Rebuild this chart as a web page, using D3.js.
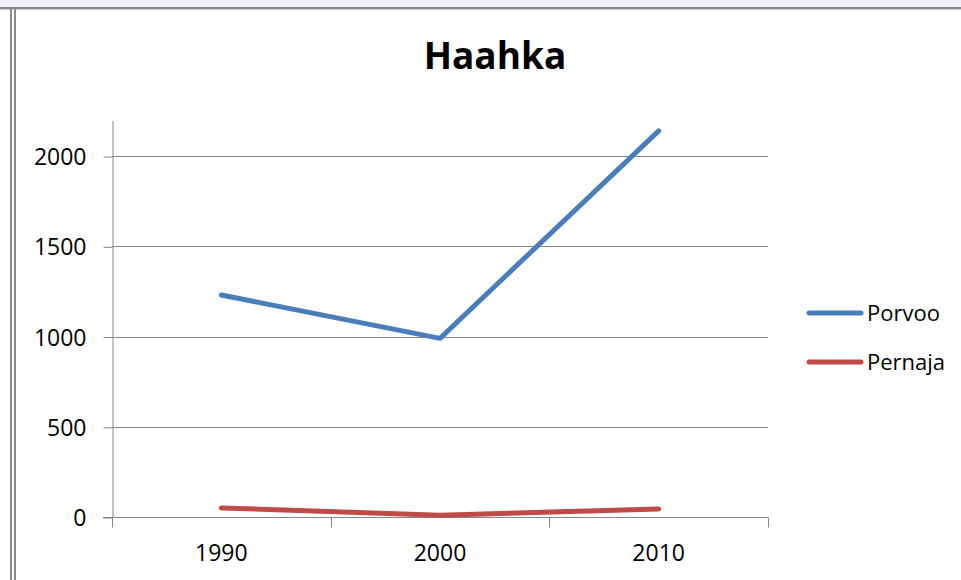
<!DOCTYPE html>
<html>
<head>
<meta charset="utf-8">
<script src="https://cdn.jsdelivr.net/npm/d3@7"></script>
<style>
  body { margin: 0; background: #fff; }
  text { font-family: 'Open Sans', Lato, sans-serif; fill: #000; }
</style>
</head>
<body>
<svg width="961" height="580"></svg>
<script>
var years = ['1990', '2000', '2010'];
var porvoo = [1230, 990, 2140];
var pernaja = [50, 10, 45];
var seriesNames = ['Porvoo', 'Pernaja'];
var yTicks = [0, 500, 1000, 1500, 2000];

var svg = d3.select('svg');
var svgWidth = +svg.attr('width');
var svgHeight = +svg.attr('height');

// window frame bits
svg.append('rect').attr('x', 0).attr('y', 0).attr('width', svgWidth).attr('height', 7).attr('fill', '#f3f1fb');
svg.append('rect').attr('x', 0).attr('y', 7).attr('width', svgWidth).attr('height', 2).attr('fill', '#8a8a8a');
svg.append('rect').attr('x', 0).attr('y', 9).attr('width', svgWidth).attr('height', 1).attr('fill', '#c8c8c8');
svg.append('rect').attr('x', 10).attr('y', 7).attr('width', 2).attr('height', svgHeight).attr('fill', '#8a8a8a');
svg.append('rect').attr('x', 14).attr('y', 7).attr('width', 2).attr('height', svgHeight).attr('fill', '#8a8a8a');

var plot = {l: 112, r: 768, t: 120, b: 517};

var xScale = d3.scaleBand()
    .domain(years)
    .range([plot.l, plot.r]);

var yScale = d3.scaleLinear()
    .domain([0, 2200])
    .range([plot.b, plot.t]);

// gridlines
svg.append('g')
    .selectAll('line')
    .data(yTicks.slice(1))
    .enter()
    .append('line')
    .attr('x1', plot.l)
    .attr('x2', plot.r)
    .attr('y1', function(d) { return Math.round(yScale(d)) + 0.5; })
    .attr('y2', function(d) { return Math.round(yScale(d)) + 0.5; })
    .attr('stroke', '#868686')
    .attr('stroke-width', 1.2);

// y axis
var yAxis = svg.append('g')
    .attr('transform', 'translate(' + (plot.l + 0.5) + ',0.5)')
    .call(d3.axisLeft(yScale).tickValues(yTicks).tickFormat(d3.format('d'))
        .tickSize(9).tickSizeOuter(0).tickPadding(17));
yAxis.select('.domain').attr('stroke', '#868686');
yAxis.selectAll('.tick line').attr('stroke', '#868686');
yAxis.selectAll('text').style('font-size', '23px').attr('dy', '0.35em')
    .style('font-family', "'Open Sans', sans-serif");

// x axis: ticks at category boundaries
var xAxisG = svg.append('g')
    .attr('transform', 'translate(0,' + (Math.round(plot.b) + 0.5) + ')');
xAxisG.append('line')
    .attr('x1', plot.l - 9).attr('x2', plot.r)
    .attr('y1', 0).attr('y2', 0)
    .attr('stroke', '#868686');
var bounds = years.map(function(d) { return xScale(d); }).concat([plot.r]);
xAxisG.selectAll('.xtick')
    .data(bounds)
    .enter()
    .append('line')
    .attr('class', 'xtick')
    .attr('x1', function(d) { return Math.round(d) + 0.5; })
    .attr('x2', function(d) { return Math.round(d) + 0.5; })
    .attr('y1', 0).attr('y2', 10)
    .attr('stroke', '#868686');
xAxisG.selectAll('.xlabel')
    .data(years)
    .enter()
    .append('text')
    .attr('class', 'xlabel')
    .attr('x', function(d) { return xScale(d) + xScale.bandwidth() / 2; })
    .attr('y', 43)
    .attr('text-anchor', 'middle')
    .style('font-size', '23px')
    .text(function(d) { return d; });

// lines
var colors = {'Porvoo': '#4a7ebb', 'Pernaja': '#be4b48'};
var seriesData = {'Porvoo': porvoo, 'Pernaja': pernaja};

var line = d3.line()
    .x(function(d, i) { return xScale(years[i]) + xScale.bandwidth() / 2; })
    .y(function(d) { return yScale(d); });

seriesNames.forEach(function(name) {
    svg.append('path')
        .datum(seriesData[name])
        .attr('d', line)
        .attr('fill', 'none')
        .attr('stroke', colors[name])
        .attr('stroke-width', 5)
        .attr('stroke-linecap', 'round')
        .attr('stroke-linejoin', 'round');
});

// legend
var key = svg.append('g')
    .selectAll('.swatch')
    .data(seriesNames)
    .enter()
    .append('g')
    .attr('class', 'swatch')
    .attr('transform', function(d, i) { return 'translate(0,' + (313 + 49 * i) + ')'; });

key.append('line')
    .attr('x1', 809).attr('x2', 861)
    .attr('y1', 0).attr('y2', 0)
    .attr('stroke', function(d) { return colors[d]; })
    .attr('stroke-width', 5)
    .attr('stroke-linecap', 'round');

key.append('text')
    .attr('x', 867)
    .attr('y', 0)
    .attr('dy', '0.35em')
    .style('font-size', '22px')
    .text(function(d) { return d; });

// title
svg.append('text')
    .attr('x', 495)
    .attr('y', 69)
    .attr('text-anchor', 'middle')
    .style('font-size', '37px')
    .style('font-weight', 'bold')
    .text('Haahka');
</script>
</body>
</html>
